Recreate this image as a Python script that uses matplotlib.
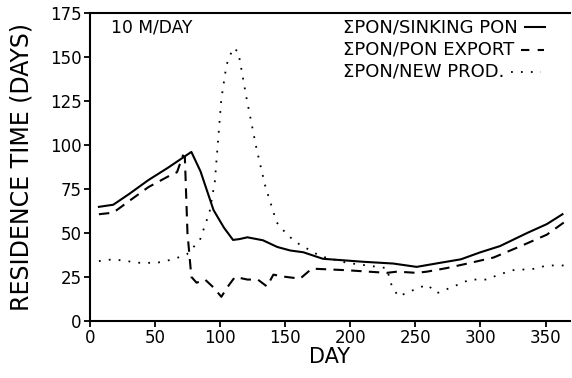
"""
Residence time of PON, 10 m/day sinking
"""

import matplotlib
matplotlib.use('Agg')
import matplotlib.pyplot as plt
from matplotlib.lines import Line2D

plt.rcParams['font.family'] = ['DejaVu Sans']

# ΣPON / sinking PON (solid)
sink_day = [7, 18, 30, 45, 60, 72, 78, 85, 95, 103, 110, 115, 121, 133, 144, 154, 164, 179,
            210, 233, 251, 269, 285, 300, 315, 336, 351, 363]
sink_val = [64.8, 66, 72, 80, 87, 93, 96, 85, 63, 53, 46, 46.5, 47.5, 45.8, 42, 40, 39, 35.3,
            33.6, 32.6, 30.7, 33, 35, 39, 42.5, 50, 55, 60.6]

# ΣPON / PON export (dashed)
exp_day = [7, 18, 30, 45, 60, 67, 71.5, 73, 75, 78, 82, 88.5, 95, 101, 106, 111.5, 121, 129,
           136, 141, 147.5, 161.5, 170.5, 197.5, 228, 236, 251, 259, 274, 290, 310, 331,
           351, 368]
exp_val = [60.6, 61.5, 68, 76, 82, 84.5, 94, 93, 50, 25, 21.7, 23.5, 19, 13.7, 19.5, 25, 23.5,
           23.5, 19.6, 26.3, 25.3, 24, 29.7, 28.8, 27.3, 28, 27.3, 28, 30, 32.6, 36, 42.5,
           49, 58]

# ΣPON / new production (dotted)
new_day = [7, 18, 38.5, 51.5, 64, 74.5, 84.6, 92, 96, 101, 105, 110, 114, 120.5, 128, 134.6,
           143.5, 151.5, 159, 177, 197.5, 228, 232, 237, 249, 259, 266.7, 279.5, 292, 305,
           314, 325, 341, 351, 367]
new_val = [34, 35, 33, 33, 35, 37.8, 46, 62, 79, 126, 145.5, 155, 153, 126, 98, 77, 56, 49,
           44.4, 36.8, 33, 30, 19.6, 13.9, 17.7, 20.6, 15.8, 19.6, 23.5, 23.5, 26.3, 28.8,
           29.6, 31.5, 31.5]

labels = ['ΣPON/SINKING PON', 'ΣPON/PON EXPORT', 'ΣPON/NEW PROD.']
x_ticks = [0, 50, 100, 150, 200, 250, 300, 350]
y_ticks = [0, 25, 50, 75, 100, 125, 150, 175]

styles = [dict(lw=1.5, ls='-'),
          dict(lw=1.5, ls=(0, (4, 4))),
          dict(lw=1.3, ls=(0, (1, 4.5)))]
handle_len = [20, 23, 30]

fig = plt.figure(figsize=(5.72, 3.78), dpi=100)
ax = fig.add_axes([0.157, 0.151, 0.84, 0.815])

ax.plot(sink_day, sink_val, color='black', **styles[0])
ax.plot(exp_day, exp_val, color='black', lw=1.5, ls=(0, (5, 3.5)))
ax.plot(new_day, new_val, color='black', **styles[2])

ax.set_xlim(0, 369)
ax.set_ylim(0, 175)
ax.set_xticks(x_ticks)
ax.set_yticks(y_ticks)
ax.tick_params(axis='both', direction='out', length=4, width=1.3, labelsize=12, pad=2)
ax.spines['right'].set_visible(False)
for s in ['left', 'bottom', 'top']:
    ax.spines[s].set_linewidth(1.5)

ax.set_xlabel('DAY', fontsize=15, labelpad=0)
ax.set_ylabel('RESIDENCE TIME (DAYS)', fontsize=17, labelpad=12)

ax.text(0.045, 0.951, '10 M/DAY', transform=ax.transAxes, fontsize=12.3, va='center', ha='left')

# legend drawn by hand: left-aligned text with the line sample right after it
row_y = [27, 50, 72]
texts = []
for lab, py in zip(labels, row_y):
    t = fig.text(343 / 572, 1 - py / 378, lab, fontsize=13, va='center', ha='left')
    texts.append(t)
fig.canvas.draw()
renderer = fig.canvas.get_renderer()
for t, py, st, hl in zip(texts, row_y, styles, handle_len):
    x_end = t.get_window_extent(renderer).x1
    x0 = x_end + 7
    fig.add_artist(Line2D([x0 / 572, (x0 + hl) / 572], [1 - py / 378, 1 - py / 378],
                          transform=fig.transFigure, color='black', **st))

plt.savefig('out.png', dpi=100)
plt.close()
